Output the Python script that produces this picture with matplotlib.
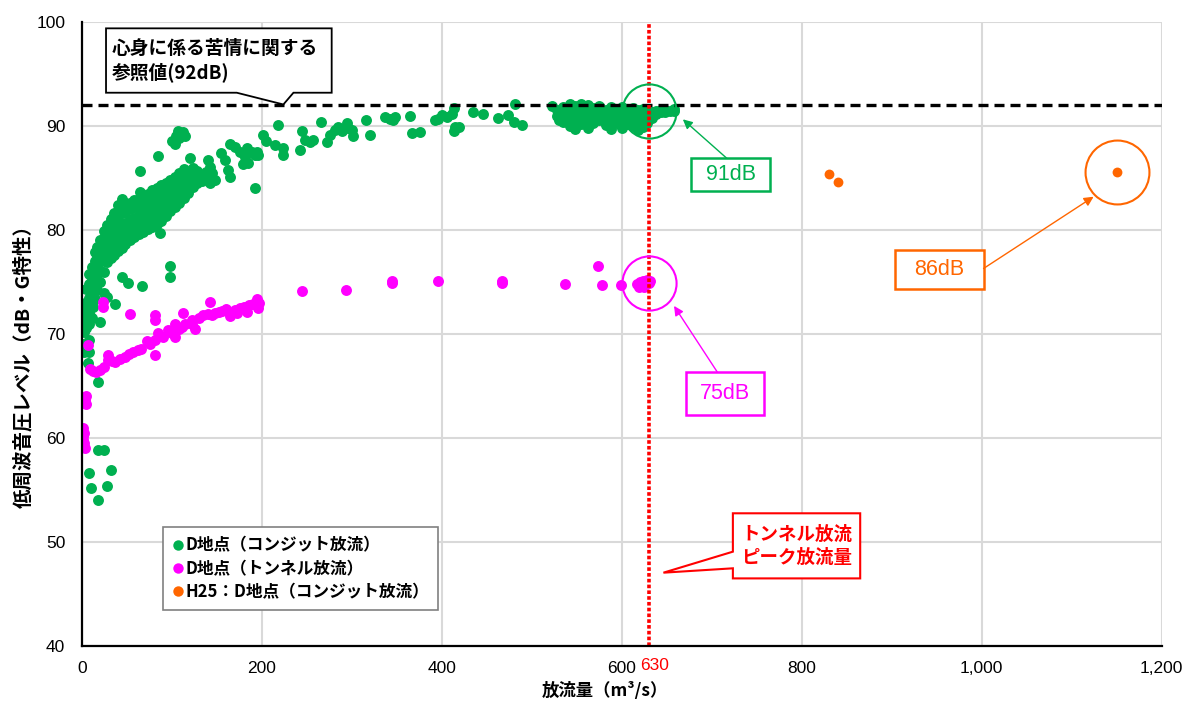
import matplotlib
matplotlib.use("Agg")
import matplotlib.pyplot as plt
from matplotlib.patches import Polygon, Rectangle
from matplotlib.lines import Line2D
from matplotlib.ticker import FuncFormatter, MultipleLocator
from matplotlib.transforms import offset_copy

plt.rcParams['font.family'] = ['Noto Sans CJK JP', 'DejaVu Sans']

GREEN = '#00b050'
MAGENTA = '#ff00ff'
ORANGE = '#ff6600'
RED = '#ff0000'

# ---- data: discharge (m3/s), low-frequency sound pressure level (dB, G-weighted) ----
# D point, conduit discharge: dense band at low flow
conduit_band = [
    (2, 70.2), (2, 71.3), (2, 72.4), (3, 73.0),
    (5, 70.6), (5, 71.8), (5, 73.0), (5, 74.3),
    (8, 71.0), (8, 72.2), (8, 73.5), (8, 74.8), (8, 75.8),
    (11, 71.5), (11, 72.8), (11, 74.0), (11, 75.2), (11, 76.4),
    (14, 73.4), (14, 74.6), (14, 75.8), (14, 77.0), (14, 77.9),
    (17, 74.2), (17, 75.3), (17, 76.5), (17, 77.6), (17, 78.4),
    (20, 75.0), (20, 76.1), (20, 77.2), (20, 78.3), (20, 79.0),
    (24, 76.0), (24, 77.0), (24, 78.0), (24, 79.2), (24, 79.9),
    (28, 76.9), (28, 77.8), (28, 78.8), (28, 79.8), (28, 80.5),
    (32, 77.3), (32, 78.3), (32, 79.3), (32, 80.4), (32, 81.1),
    (36, 77.6), (36, 78.6), (36, 79.6), (36, 80.7), (36, 81.6),
    (40, 78.0), (40, 79.1), (40, 80.2), (40, 81.3), (40, 82.4),
    (44, 78.3), (44, 79.4), (44, 80.5), (44, 81.6), (44, 83.0),
    (48, 78.7), (48, 79.7), (48, 80.7), (48, 81.7), (48, 82.6),
    (53, 79.0), (53, 80.0), (53, 81.0), (53, 82.0), (53, 82.6),
    (58, 79.3), (58, 80.2), (58, 81.2), (58, 82.2), (58, 82.9),
    (63, 79.6), (63, 80.5), (63, 81.4), (63, 82.3), (63, 83.0),
    (68, 79.8), (68, 80.8), (68, 81.7), (68, 82.6), (68, 83.2),
    (73, 80.1), (73, 81.0), (73, 82.0), (73, 82.9), (73, 83.5),
    (78, 80.3), (78, 81.3), (78, 82.3), (78, 83.2), (78, 83.8),
    (83, 80.6), (83, 81.6), (83, 82.6), (83, 83.5), (83, 84.0),
    (88, 80.9), (88, 81.9), (88, 82.9), (88, 83.8), (88, 84.3),
    (93, 81.3), (93, 82.2), (93, 83.2), (93, 84.0), (93, 84.5),
    (98, 81.8), (98, 82.7), (98, 83.6), (98, 84.3), (98, 84.8),
    (103, 82.2), (103, 83.1), (103, 83.9), (103, 84.6), (103, 85.1),
    (108, 82.6), (108, 83.5), (108, 84.3), (108, 85.0), (108, 85.5),
    (113, 83.1), (113, 83.9), (113, 84.6), (113, 85.3), (113, 85.9),
    (118, 83.6), (118, 84.3), (118, 85.0), (118, 85.6),
    (123, 84.1), (123, 84.8), (123, 85.4), (123, 86.0),
    (128, 84.5), (128, 85.1), (128, 85.7),
    (133, 84.7), (133, 85.3),
    (138, 85.0), (138, 85.6),
]

# D point, conduit discharge: scattered readings below 210 m3/s
conduit_sparse = [
    (7.4, 56.6), (10, 55.2), (17.5, 54.0), (17.5, 58.8), (25, 58.8), (27.5, 55.4), (32.3, 56.9),
    (1, 69.0), (2, 68.3), (8, 69.4), (8, 68.3), (7, 67.2), (18, 65.4), (9, 71.7), (12.6, 72.6),
    (20, 71.2), (24, 73.9), (27.5, 73.6), (36.7, 72.9), (44, 75.5), (51.5, 74.9), (67, 74.6),
    (86.7, 79.7), (97.8, 76.5), (97.8, 75.5), (64, 83.7), (64, 85.7), (84, 87.1), (119.5, 86.9),
    (100, 88.6), (103, 88.3), (105, 89.0), (108, 88.8), (110, 89.2), (112, 89.4), (115, 89.0), (107, 89.5),
    (140.4, 86.7), (142.3, 86.1), (144.2, 85.5), (146, 84.8), (142.3, 84.5), (148, 84.8),
    (155, 87.4), (159, 86.7), (162.6, 85.8), (164.5, 85.1), (164.5, 88.3), (170, 88.0),
    (175.6, 87.5), (181, 87.0), (185, 86.4), (179, 86.3), (183, 87.9), (188.7, 87.5),
    (192.3, 87.2), (196, 87.2), (192, 84.0), (194, 87.5), (201.5, 89.1), (205, 88.6),
]

# D point, conduit discharge: 210-530 m3/s
conduit_mid = [
    (218, 90.1), (214, 88.2), (223.6, 87.2), (223.6, 87.9), (242, 87.7), (244, 89.5),
    (247.7, 88.7), (253, 88.5), (257, 88.7), (266, 90.4), (271.9, 88.5), (275.6, 89.1),
    (281, 89.6), (284.9, 89.9), (288.6, 89.5), (294, 90.3), (296, 89.8), (299.7, 89.6),
    (301.6, 89.0), (316, 90.6), (320, 89.1), (336.8, 90.9), (342, 90.7), (346, 90.6),
    (348, 90.9), (364.7, 91.0), (366.6, 89.3), (375.8, 89.4), (392.6, 90.6), (396, 90.7),
    (400, 91.1), (405.6, 90.9), (411, 91.2), (413, 91.7), (414.8, 89.9), (418.6, 89.9),
    (413, 89.5), (435, 91.3), (446, 91.2), (462.4, 90.8), (474, 91.1), (480, 90.4),
    (489, 90.1), (481.6, 92.1), (522.6, 91.9), (530, 90.6),
]

# D point, conduit discharge: cluster near the peak flow
conduit_peak = [
    (528, 91.0), (528, 91.5),
    (535, 90.4), (535, 91.2), (535, 91.8),
    (542, 90.0), (542, 90.8), (542, 91.5), (542, 92.1),
    (548, 89.7), (548, 90.5), (548, 91.2), (548, 91.9),
    (555, 90.2), (555, 91.0), (555, 91.6), (555, 92.1),
    (562, 89.8), (562, 90.6), (562, 91.3), (562, 92.0),
    (568, 90.3), (568, 91.0), (568, 91.7),
    (575, 90.6), (575, 91.3), (575, 91.9),
    (582, 90.1), (582, 90.9), (582, 91.5),
    (588, 89.7), (588, 90.5), (588, 91.2), (588, 91.8),
    (595, 90.3), (595, 91.0), (595, 91.6),
    (600, 89.8), (600, 90.6), (600, 91.3), (600, 91.8),
    (606, 90.2), (606, 90.9), (606, 91.5),
    (612, 90.0), (612, 90.7), (612, 91.3), (612, 91.7),
    (618, 89.6), (618, 90.4), (618, 91.1), (618, 91.5),
    (623, 89.9), (623, 90.6), (623, 91.2), (623, 91.6),
    (628, 90.3), (628, 90.9), (628, 91.4),
    (633, 90.8), (633, 91.3),
    (638, 91.2), (638, 91.4),
    (643, 91.3), (643, 91.5),
    (648, 91.3), (648, 91.5),
    (653, 91.4), (658, 91.4), (658, 91.6),
]

# D point, tunnel discharge
tunnel_pts = [
    (1, 61.0), (1.5, 60.2), (2, 59.5), (3, 59.0), (1, 59.8), (2.5, 60.5),
    (3.3, 63.7), (5, 63.3), (4, 64.0), (7, 68.9),
    (8.9, 66.6), (12, 66.4), (16, 66.3), (20, 66.5), (24, 66.8), (29, 67.5), (29, 68.0),
    (33, 67.4), (37, 67.3), (42, 67.6), (48, 67.8), (52, 68.1), (57, 68.3), (62, 68.5),
    (66, 68.6), (72, 69.3), (76, 69.0), (81, 69.4), (81, 68.0), (85, 70.1), (90, 69.7),
    (96, 70.4), (100, 70.1), (103, 69.7), (103, 71.0), (108, 70.5), (111, 70.7), (115, 71.0),
    (122, 71.0), (122, 71.3), (126, 70.5), (130, 71.5), (135, 71.8), (140, 71.9), (142, 73.1),
    (144, 71.8), (148, 72.0), (152, 72.1), (156, 72.2), (160, 72.4), (165, 71.7), (170, 72.3),
    (172, 72.0), (176, 72.5), (180, 72.6), (183, 72.1), (186, 72.8), (190, 72.9), (194, 73.4),
    (196, 72.5), (197, 73.0),
    (23.7, 73.1), (23.7, 72.6), (53, 71.9), (81, 71.8), (81, 71.3), (112.6, 72.0),
    (244, 74.1), (293.5, 74.2), (344, 74.9), (344, 75.1), (396, 75.1), (467, 74.9), (467, 75.1),
    (537, 74.8), (574, 76.5), (578, 74.7), (599, 74.7),
    (617, 74.8), (620, 75.0), (622, 74.6), (624, 75.1), (626, 74.8), (628, 75.2),
    (630, 74.9), (631, 75.1), (619, 74.5), (625, 74.5),
]

# H25 survey, D point, conduit discharge
h25_pts = [(830, 85.4), (840, 84.6), (1150, 85.6)]

reference_level = 92
peak_flow = 630
conduit_peak_level = 91.4
tunnel_peak_level = 74.9
h25_peak = (1150, 85.6)

series_labels = ['D地点（コンジット放流）', 'D地点（トンネル放流）', 'H25：D地点（コンジット放流）']

NUM_FONT = ['Liberation Sans', 'DejaVu Sans']

# ---- figure ----
fig = plt.figure(figsize=(11.84, 7.06), dpi=100)
ax = fig.add_axes([82 / 1184, 60 / 706, 1079.7 / 1184, 624 / 706])
ax.set_xlim(0, 1200)
ax.set_ylim(40, 100)
ax.xaxis.set_major_locator(MultipleLocator(200))
ax.yaxis.set_major_locator(MultipleLocator(10))
ax.xaxis.set_major_formatter(FuncFormatter(lambda v, p: f"{int(v):,}"))
ax.grid(True, color='#d9d9d9', lw=1.5)
ax.set_axisbelow(True)
for s in ('top', 'right'):
    ax.spines[s].set_visible(False)
for s in ('left', 'bottom'):
    ax.spines[s].set_linewidth(1.6)
    ax.spines[s].set_color('black')
    ax.spines[s].set_zorder(9)
ax.tick_params(length=0, labelsize=12.5)
ax.tick_params(axis='x', pad=11)
ax.tick_params(axis='y', pad=12)
for lab in ax.get_xticklabels() + ax.get_yticklabels():
    lab.set_family(NUM_FONT)

conduit_all = conduit_band + conduit_sparse + conduit_mid + conduit_peak
cx, cy = zip(*conduit_all)
tx, ty = zip(*tunnel_pts)
hx, hy = zip(*h25_pts)
ax.scatter(cx, cy, s=62, c=GREEN, lw=0, zorder=3)
ax.scatter(tx, ty, s=62, c=MAGENTA, lw=0, zorder=4)
ax.scatter(hx, hy, s=50, c=ORANGE, lw=0, zorder=5)

# reference level and peak discharge lines
ax.axhline(reference_level, color='black', lw=2.4, dashes=(3, 1.8), zorder=6)
ax.axvline(peak_flow, color=RED, lw=2.6, ls=(0, (1, 0.6)), zorder=7)
ax.text(peak_flow, -0.02, f"{peak_flow}",
        transform=offset_copy(ax.get_xaxis_transform(), fig=fig, x=4, y=0, units='points'),
        ha='center', va='top', color=RED, fontsize=12.5, family=NUM_FONT)

# highlight circles
ax.plot(peak_flow, conduit_peak_level, 'o', ms=39, mfc='none', mec=GREEN, mew=1.5, zorder=8)
ax.plot(peak_flow, tunnel_peak_level, 'o', ms=39, mfc='none', mec=MAGENTA, mew=1.5, zorder=8)
ax.plot(h25_peak[0], h25_peak[1], 'o', ms=46, mfc='none', mec=ORANGE, mew=1.5, zorder=8)


def value_box(x0, y0, x1, y1, value, color, arrow_from, arrow_to):
    ax.add_patch(Rectangle((x0, y0), x1 - x0, y1 - y0, fc='white', ec=color, lw=1.8, zorder=10))
    ax.text((x0 + x1) / 2, (y0 + y1) / 2, f"{value:.0f}dB", color=color, fontsize=15.5,
            ha='center', va='center', zorder=11, family=NUM_FONT)
    ax.annotate('', xy=arrow_to, xytext=arrow_from, zorder=10,
                arrowprops=dict(arrowstyle='-|>', color=color, lw=1.0, mutation_scale=14,
                                shrinkA=0, shrinkB=0))


value_box(677, 83.75, 765, 86.89, conduit_peak_level, GREEN, (716.7, 86.89), (667.8, 90.64))
value_box(671.5, 62.2, 758.2, 66.35, tunnel_peak_level, MAGENTA, (706, 66.35), (658, 72.7))
value_box(903.8, 74.3, 1002, 78.08, h25_peak[1], ORANGE, (1002, 76.3), (1124.3, 83.2))

# callout for the reference level
ref_box = [(26.7, 99.39), (277.5, 99.39), (277.5, 93.2), (235, 93.2), (223.8, 92.07),
           (172, 93.2), (26.7, 93.2)]
ax.add_patch(Polygon(ref_box, closed=True, fc='white', ec='black', lw=1.3, zorder=10))
ax.text(33, 97.45, '心身に係る苦情に関する', fontsize=13.5, fontweight='bold',
        ha='left', va='center', zorder=11)
ax.text(33, 95.15, '参照値(92dB)', fontsize=13.5, fontweight='bold',
        ha='left', va='center', zorder=11)

# callout for the tunnel peak discharge
peak_box = [(723.4, 52.76), (864.9, 52.76), (864.9, 46.5), (723.4, 46.5), (723.4, 47.47),
            (646.2, 47.05), (723.4, 49.07)]
ax.add_patch(Polygon(peak_box, closed=True, fc='white', ec=RED, lw=1.5, zorder=10))
ax.text(794, 50.72, 'トンネル放流', color=RED, fontsize=13.3, fontweight='bold',
        ha='center', va='center', zorder=11)
ax.text(794, 48.51, 'ピーク放流量', color=RED, fontsize=13.3, fontweight='bold',
        ha='center', va='center', zorder=11)

# legend
handles = [Line2D([], [], ls='none', marker='o', ms=7.5, mfc=c, mec='none')
           for c in (GREEN, MAGENTA, ORANGE)]
leg = ax.legend(handles, series_labels, loc='upper left', bbox_to_anchor=(0.0747, 0.190),
                borderaxespad=0, frameon=True, fancybox=False, framealpha=1,
                edgecolor='#808080', handlelength=0.7, handletextpad=0.1,
                labelspacing=0.32, borderpad=0.55,
                prop={'size': 12, 'weight': 'bold', 'family': ['Noto Sans CJK JP', 'DejaVu Sans']})
leg.get_frame().set_linewidth(1.2)
leg.set_zorder(12)

# axis titles
fig.text(605 / 1184, 1 - 691 / 706, '放流量（m³/s）', fontsize=12.5, fontweight='bold',
         ha='center', va='center')
fig.text(23 / 1184, 1 - 362 / 706, '低周波音圧レベル（dB・G特性）', fontsize=14,
         fontweight='bold', rotation=90, ha='center', va='center')

fig.savefig('out.png', dpi=100, facecolor='white')
